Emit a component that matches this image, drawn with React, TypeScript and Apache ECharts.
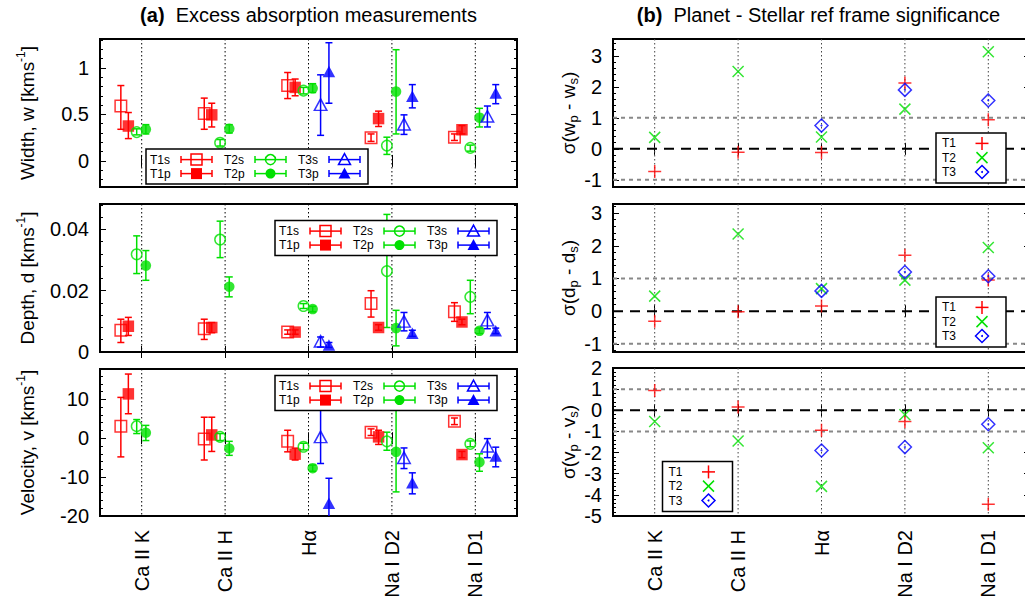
import React, { useEffect, useRef } from "react";
import * as echarts from "echarts";

// ---------------- data ----------------
const LINES = ["Ca II K", "Ca II H", "Hα", "Na I D2", "Na I D1"];
const LINE_POS = [1, 2, 3, 4, 5];

// [value, low, high] per line (null = no measurement)
const WIDTH_T1S = [[0.59, 0.34, 0.81], [0.51, 0.34, 0.675], [0.81, 0.67, 0.95], [0.25, 0.21, 0.29], [0.255, 0.22, 0.29]];
const WIDTH_T1P = [[0.375, 0.24, 0.52], [0.495, 0.365, 0.62], [0.79, 0.7, 0.88], [0.455, 0.37, 0.535], [0.335, 0.29, 0.38]];
const WIDTH_T2S = [[0.31, 0.28, 0.345], [0.195, 0.16, 0.23], [0.755, 0.72, 0.79], [0.165, 0.07, 0.255], [0.14, 0.105, 0.17]];
const WIDTH_T2P = [[0.34, 0.29, 0.39], [0.345, 0.3, 0.39], [0.78, 0.735, 0.83], [0.745, 0.29, 1.195], [0.465, 0.365, 0.565]];
const WIDTH_T3S = [null, null, [0.605, 0.275, 0.925], [0.395, 0.285, 0.495], [0.48, 0.365, 0.59]];
const WIDTH_T3P = [null, null, [0.96, 0.62, 1.27], [0.695, 0.57, 0.82], [0.73, 0.615, 0.82]];

const DEPTH_T1S = [[0.0071, 0.0031, 0.0107], [0.0076, 0.0041, 0.0107], [0.0065, 0.0058, 0.0072], [0.0158, 0.0114, 0.02], [0.0131, 0.01, 0.0161]];
const DEPTH_T1P = [[0.0084, 0.0054, 0.0113], [0.008, 0.0063, 0.0096], [0.0065, 0.0058, 0.0072], [0.008, 0.0071, 0.0089], [0.0098, 0.0089, 0.0107]];
const DEPTH_T2S = [[0.0319, 0.0256, 0.0379], [0.0367, 0.0308, 0.0427], [0.015, 0.0142, 0.0158], [0.0264, 0.008, 0.0449], [0.018, 0.0125, 0.0234]];
const DEPTH_T2P = [[0.0282, 0.0234, 0.0331], [0.0213, 0.018, 0.0245], [0.014, 0.0131, 0.0149], [0.0078, 0.002, 0.0136], [0.0069, 0.006, 0.0078]];
const DEPTH_T3S = [null, null, [0.0035, 0.0016, 0.0049], [0.01, 0.0069, 0.0129], [0.0104, 0.0076, 0.0129]];
const DEPTH_T3P = [null, null, [0.0023, 0.0015, 0.0031], [0.0061, 0.0051, 0.0071], [0.0069, 0.006, 0.0078]];

const VEL_T1S = [[3.1, -4.8, 10.5], [-0.2, -5.6, 5.4], [-0.8, -3.5, 2.05], [1.55, 0.7, 2.4], [4.35, 3.5, 5.2]];
const VEL_T1P = [[11.4, 6.3, 16.5], [0.85, -3.4, 5.4], [-4.1, -5.6, -2.55], [0.35, -1.6, 2.05], [-4.2, -5.0, -3.4]];
const VEL_T2S = [[3.1, 1.2, 4.8], [0.35, -0.6, 1.2], [-2.2, -3.0, -1.3], [-0.8, -3.1, 1.55], [-1.45, -2.2, -0.7]];
const VEL_T2P = [[1.4, -0.6, 3.3], [-2.65, -4.4, -0.8], [-7.7, -8.5, -6.9], [-3.5, -13.8, 8.5], [-6.15, -8.5, -4.0]];
const VEL_T3S = [null, null, [0.35, -6.5, 8.0], [-5.0, -7.8, -2.5], [-2.05, -5.0, -0.1]];
const VEL_T3P = [null, null, [-16.75, -23, -10.3], [-11.45, -14.3, -8.9], [-4.6, -7.35, -2.3]];

// significances
const SIG_W_T1 = [-0.73, -0.11, -0.12, 2.12, 0.94];
const SIG_W_T2 = [0.37, 2.49, 0.38, 1.28, 3.13];
const SIG_W_T3 = [null, null, 0.75, 1.9, 1.56];
const SIG_D_T1 = [-0.31, -0.02, 0.16, 1.71, 0.95];
const SIG_D_T2 = [0.46, 2.36, 0.69, 0.95, 1.95];
const SIG_D_T3 = [null, null, 0.62, 1.2, 1.07];
const SIG_V_T1 = [0.94, 0.15, -0.94, -0.53, -4.45];
const SIG_V_T2 = [-0.53, -1.45, -3.6, -0.21, -1.77];
const SIG_V_T3 = [null, null, -1.9, -1.74, -0.66];

// tick labels
const WIDTH_TICKS = [0, 0.5, 1];
const DEPTH_TICKS = [0, 0.02, 0.04];
const VEL_TICKS = [-20, -10, 0, 10];
const SIGW_TICKS = [-1, 0, 1, 2, 3];
const SIGD_TICKS = [-1, 0, 1, 2, 3];
const SIGV_TICKS = [-5, -4, -3, -2, -1, 0, 1, 2];

// ---------------- styling ----------------
const RED = "#ff0000";
const GREEN = "#00e000";
const BLUE = "#0000ff";
const FONT = "Liberation Sans, Arial, Helvetica, sans-serif";
const LEG_FONT = 12;

const GRIDS = [
  { left: 100, top: 39, width: 417, height: 148 },
  { left: 100, top: 204, width: 417, height: 148 },
  { left: 100, top: 369, width: 417, height: 147 },
  { left: 613, top: 39, width: 417, height: 148 },
  { left: 613, top: 204, width: 417, height: 148 },
  { left: 613, top: 368, width: 417, height: 148 },
];

const META = [
  { key: "T1s", color: RED, shape: "rect", filled: false, dx: -0.25 },
  { key: "T1p", color: RED, shape: "rect", filled: true, dx: -0.16 },
  { key: "T2s", color: GREEN, shape: "circle", filled: false, dx: -0.06 },
  { key: "T2p", color: GREEN, shape: "circle", filled: true, dx: 0.05 },
  { key: "T3s", color: BLUE, shape: "triangle", filled: false, dx: 0.145 },
  { key: "T3p", color: BLUE, shape: "triangle", filled: true, dx: 0.245 },
];

const PLUS = "path://M6.5,0L6.5,13M0,6.5L13,6.5";
const CROSS = "path://M0,0L11,11M0,11L11,0";

function steps(a: number, b: number, s: number) {
  const out: number[] = [];
  for (let v = a; v <= b + 1e-9; v += s) out.push(Math.round(v * 1e6) / 1e6);
  return out;
}

function buildOption() {
  const xAxis: any[] = [];
  const yAxis: any[] = [];
  const series: any[] = [];

  GRIDS.forEach((_, gi) => {
    const isBottom = gi === 2 || gi === 5;
    const tick = { show: true, inside: true, length: 6, customValues: LINE_POS, lineStyle: { color: "#000", width: 1 } };
    xAxis.push({
      type: "value", gridIndex: gi, min: 0.5, max: 5.5, position: "bottom",
      axisLine: { show: false }, splitLine: { show: false }, axisTick: tick,
      axisLabel: isBottom
        ? { show: true, customValues: LINE_POS, formatter: (v: number) => LINES[Math.round(v) - 1], rotate: 90, margin: 14, fontSize: 20, fontFamily: FONT, color: "#000" }
        : { show: false },
    });
    xAxis.push({
      type: "value", gridIndex: gi, min: 0.5, max: 5.5, position: "top",
      axisLine: { show: false }, splitLine: { show: false }, axisTick: tick, axisLabel: { show: false },
    });
  });

  const rich = {
    sup: { fontSize: 12, fontFamily: FONT, verticalAlign: "top", lineHeight: 13, color: "#000" },
    sub: { fontSize: 13, fontFamily: FONT, verticalAlign: "bottom", lineHeight: 13, color: "#000" },
  };

  function addY(gi: number, min: number, max: number, major: number[], minorStep: number, name: string, gap: number) {
    const minor = steps(Math.ceil(min / minorStep) * minorStep, max, minorStep).filter(
      (v) => !major.some((m) => Math.abs(m - v) < 1e-9)
    );
    const base = { type: "value", gridIndex: gi, min, max, axisLine: { show: false }, splitLine: { show: false } };
    const tk = (vals: number[], len: number) => ({ show: true, inside: true, length: len, customValues: vals, lineStyle: { color: "#000", width: 1 } });
    yAxis.push({
      ...base, position: "left", axisTick: tk(major, 6),
      axisLabel: { show: true, customValues: major, margin: 11, fontSize: 20, fontFamily: FONT, color: "#000" },
      name, nameLocation: "middle", nameGap: gap,
      nameTextStyle: { fontSize: 19, fontFamily: FONT, color: "#000", lineHeight: 24, rich },
    });
    yAxis.push({ ...base, position: "left", axisTick: tk(minor, 3), axisLabel: { show: false } });
    yAxis.push({ ...base, position: "right", axisTick: tk(major, 6), axisLabel: { show: false } });
    yAxis.push({ ...base, position: "right", axisTick: tk(minor, 3), axisLabel: { show: false } });
  }

  addY(0, -0.28, 1.31, WIDTH_TICKS, 0.1, "Width, w [kms{sup|-1}]", 61);
  addY(1, 0, 0.0483, DEPTH_TICKS, 0.004, "Depth, d [kms{sup|-1}]", 61);
  addY(2, -20, 17.8, VEL_TICKS, 2, "Velocity, v [kms{sup|-1}]", 61);
  addY(3, -1.23, 3.54, SIGW_TICKS, 0.2, "σ(w{sub|p} - w{sub|s})", 27);
  addY(4, -1.25, 3.28, SIGD_TICKS, 0.2, "σ(d{sub|p} - d{sub|s})", 27);
  addY(5, -5, 2, SIGV_TICKS, 0.2, "σ(v{sub|p} - v{sub|s})", 27);

  // vertical dotted lines at each spectral line
  GRIDS.forEach((_, gi) => {
    const left = gi < 3;
    series.push({
      type: "custom", xAxisIndex: gi * 2, yAxisIndex: gi * 4, silent: true, z: 1,
      data: LINE_POS.map((x) => [x, 0]), encode: { x: 0, y: 1 },
      renderItem: (params: any, api: any) => {
        const cs = params.coordSys;
        const p = api.coord([api.value(0), api.value(1)]);
        return {
          type: "line",
          shape: { x1: p[0], y1: cs.y, x2: p[0], y2: cs.y + cs.height },
          style: { stroke: left ? "#000" : "#444", lineWidth: 1, lineDash: [1.5, 2.5] },
        };
      },
    });
  });

  // horizontal reference lines in significance panels
  [3, 4, 5].forEach((gi) => {
    const hline = (vals: number[], stroke: string, dash: number[]) => ({
      type: "custom", xAxisIndex: gi * 2, yAxisIndex: gi * 4, silent: true, z: 1,
      data: vals.map((v) => [1, v]), encode: { x: 0, y: 1 },
      renderItem: (params: any, api: any) => {
        const cs = params.coordSys;
        const p = api.coord([api.value(0), api.value(1)]);
        return {
          type: "line",
          shape: { x1: cs.x, y1: p[1], x2: cs.x + cs.width, y2: p[1] },
          style: { stroke, lineWidth: 2, lineDash: dash },
        };
      },
    });
    series.push(hline([1, -1], "#888", [4, 4]));
    series.push(hline([0], "#000", [10, 7]));
  });

  // measurement panels
  const LEFT_DATA = [
    [WIDTH_T1S, WIDTH_T1P, WIDTH_T2S, WIDTH_T2P, WIDTH_T3S, WIDTH_T3P],
    [DEPTH_T1S, DEPTH_T1P, DEPTH_T2S, DEPTH_T2P, DEPTH_T3S, DEPTH_T3P],
    [VEL_T1S, VEL_T1P, VEL_T2S, VEL_T2P, VEL_T3S, VEL_T3P],
  ];
  LEFT_DATA.forEach((panel, gi) => {
    panel.forEach((arr: any[], si) => {
      const m = META[si];
      const pts = arr
        .map((d, i) => (d ? [LINE_POS[i] + m.dx, d[0], d[1], d[2]] : null))
        .filter(Boolean) as number[][];
      series.push({
        type: "custom", name: m.key + " err", xAxisIndex: gi * 2, yAxisIndex: gi * 4, silent: true, z: 2, clip: true,
        data: pts.map((p) => [p[0], p[2], p[3]]), encode: { x: 0, y: [1, 2] },
        renderItem: (_p: any, api: any) => {
          const x = api.value(0);
          const a = api.coord([x, api.value(1)]);
          const b = api.coord([x, api.value(2)]);
          const w = 3.5;
          const st = { stroke: m.color, lineWidth: 1.5 };
          return {
            type: "group",
            children: [
              { type: "line", shape: { x1: a[0], y1: a[1], x2: b[0], y2: b[1] }, style: st },
              { type: "line", shape: { x1: a[0] - w, y1: a[1], x2: a[0] + w, y2: a[1] }, style: st },
              { type: "line", shape: { x1: b[0] - w, y1: b[1], x2: b[0] + w, y2: b[1] }, style: st },
            ],
          };
        },
      });
      series.push({
        type: "scatter", name: m.key, xAxisIndex: gi * 2, yAxisIndex: gi * 4, silent: true, z: 3,
        data: pts.map((p) => [p[0], p[1]]),
        symbol: m.shape,
        symbolSize: m.shape === "rect" ? 11.5 : m.shape === "circle" ? 10.5 : [12.5, 11.5],
        itemStyle: {
          color: m.filled ? m.color : "rgba(255,255,255,0)",
          borderColor: m.color,
          borderWidth: m.filled ? 0 : 1.5,
        },
      });
    });
  });

  // significance panels
  const RIGHT_DATA = [
    [SIG_W_T1, SIG_W_T2, SIG_W_T3],
    [SIG_D_T1, SIG_D_T2, SIG_D_T3],
    [SIG_V_T1, SIG_V_T2, SIG_V_T3],
  ];
  RIGHT_DATA.forEach((panel, k) => {
    const gi = k + 3;
    const toPts = (arr: any[]) =>
      arr.map((v, i) => (v == null ? null : [LINE_POS[i], v])).filter(Boolean);
    series.push({
      type: "scatter", name: "T1", xAxisIndex: gi * 2, yAxisIndex: gi * 4, silent: true, z: 3,
      data: toPts(panel[0]), symbol: PLUS, symbolSize: 13,
      itemStyle: { color: "rgba(0,0,0,0)", borderColor: RED, borderWidth: 1.5 },
    });
    series.push({
      type: "scatter", name: "T2", xAxisIndex: gi * 2, yAxisIndex: gi * 4, silent: true, z: 3,
      data: toPts(panel[1]), symbol: CROSS, symbolSize: 11,
      itemStyle: { color: "rgba(0,0,0,0)", borderColor: GREEN, borderWidth: 1.5 },
    });
    series.push({
      type: "scatter", name: "T3", xAxisIndex: gi * 2, yAxisIndex: gi * 4, silent: true, z: 3,
      data: toPts(panel[2]), symbol: "diamond", symbolSize: 13,
      itemStyle: { color: "rgba(0,0,0,0)", borderColor: BLUE, borderWidth: 1.5 },
    });
    series.push({
      type: "scatter", name: "T3 dot", xAxisIndex: gi * 2, yAxisIndex: gi * 4, silent: true, z: 4,
      data: toPts(panel[2]), symbol: "circle", symbolSize: 2,
      itemStyle: { color: BLUE },
    });
  });

  // ---------------- legends and titles (graphic) ----------------
  const graphic: any[] = [];
  const ln = (x1: number, y1: number, x2: number, y2: number, c: string) => ({
    type: "line", z: 101, shape: { x1, y1, x2, y2 }, style: { stroke: c, lineWidth: 1.5 },
  });
  const txt = (x: number, y: number, text: string, size: number) => ({
    type: "text", z: 101, x, y,
    style: { text, fontSize: size, fontFamily: FONT, fill: "#000", align: "left", verticalAlign: "middle", lineHeight: size },
  });
  const marker = (m: any, cx: number, cy: number) => {
    const fill = m.filled ? m.color : "rgba(255,255,255,0)";
    const style = { fill, stroke: m.color, lineWidth: m.filled ? 0 : 1.5 };
    if (m.shape === "rect") return { type: "rect", z: 102, shape: { x: cx - 5.5, y: cy - 5.5, width: 11, height: 11 }, style };
    if (m.shape === "circle") return { type: "circle", z: 102, shape: { cx, cy, r: 5 }, style };
    return { type: "polygon", z: 102, shape: { points: [[cx, cy - 6], [cx + 6, cy + 5], [cx - 6, cy + 5]] }, style };
  };
  const leftLegend = (bx: number, by: number) => {
    graphic.push({ type: "rect", z: 100, shape: { x: bx, y: by, width: 222, height: 35 }, style: { fill: "#fff", stroke: "#000", lineWidth: 1.5 } });
    META.forEach((m, i) => {
      const c = Math.floor(i / 2);
      const r = i % 2;
      const ty = by + 10.6 + 14 * r;
      const ox = bx + 74 * c;
      graphic.push(txt(ox + 4, ty, m.key, LEG_FONT));
      const x1 = ox + 35;
      const x2 = ox + 66;
      graphic.push(ln(x1, ty, x2, ty, m.color), ln(x1, ty - 3.5, x1, ty + 3.5, m.color), ln(x2, ty - 3.5, x2, ty + 3.5, m.color));
      graphic.push(marker(m, (x1 + x2) / 2, ty));
    });
  };
  const rightLegend = (bx: number, by: number) => {
    graphic.push({ type: "rect", z: 100, shape: { x: bx, y: by, width: 70, height: 50 }, style: { fill: "#fff", stroke: "#000", lineWidth: 1.5 } });
    const rows = [10.4, 24.6, 39];
    const mx = bx + 46;
    graphic.push(txt(bx + 6, by + rows[0], "T1", LEG_FONT));
    graphic.push(txt(bx + 6, by + rows[1], "T2", LEG_FONT));
    graphic.push(txt(bx + 6, by + rows[2], "T3", LEG_FONT));
    let y = by + rows[0];
    graphic.push(ln(mx - 6.5, y, mx + 6.5, y, RED), ln(mx, y - 6.5, mx, y + 6.5, RED));
    y = by + rows[1];
    graphic.push(ln(mx - 5.5, y - 5.5, mx + 5.5, y + 5.5, GREEN), ln(mx - 5.5, y + 5.5, mx + 5.5, y - 5.5, GREEN));
    y = by + rows[2];
    graphic.push({ type: "polygon", z: 102, shape: { points: [[mx, y - 6.5], [mx + 6.5, y], [mx, y + 6.5], [mx - 6.5, y]] }, style: { fill: "rgba(0,0,0,0)", stroke: BLUE, lineWidth: 1.5 } });
    graphic.push({ type: "circle", z: 102, shape: { cx: mx, cy: y, r: 1 }, style: { fill: BLUE } });
  };
  leftLegend(146, 149);
  leftLegend(275, 220.5);
  leftLegend(275, 375.5);
  rightLegend(936, 133);
  rightLegend(936, 297);
  rightLegend(662.5, 461.5);

  const titleRich = { b: { fontWeight: "bold", fontSize: 20, fontFamily: FONT, fill: "#000", color: "#000" } };
  graphic.push({
    type: "text", z: 101, x: 308.5, y: 15,
    style: { text: "{b|(a)}  Excess absorption measurements", rich: titleRich, fontSize: 20, fontFamily: FONT, fill: "#000", align: "center", verticalAlign: "middle" },
  });
  graphic.push({
    type: "text", z: 101, x: 818.5, y: 15,
    style: { text: "{b|(b)}  Planet - Stellar ref frame significance", rich: titleRich, fontSize: 20, fontFamily: FONT, fill: "#000", align: "center", verticalAlign: "middle" },
  });

  return {
    animation: false,
    backgroundColor: "#fff",
    grid: GRIDS.map((g) => ({ ...g, show: true, borderColor: "#000", borderWidth: 2, backgroundColor: "rgba(0,0,0,0)", containLabel: false, outerBoundsMode: "none" })),
    xAxis,
    yAxis,
    series,
    graphic,
  };
}

export default function App() {
  const ref = useRef<HTMLDivElement>(null);
  useEffect(() => {
    if (!ref.current) return;
    const chart = echarts.init(ref.current, undefined, { renderer: "svg" });
    chart.setOption(buildOption() as any);
    return () => chart.dispose();
  }, []);
  return (
    <div
      ref={ref}
      style={{ position: "absolute", left: 0, top: 0, width: 1025, height: 601, background: "#fff" }}
    />
  );
}
